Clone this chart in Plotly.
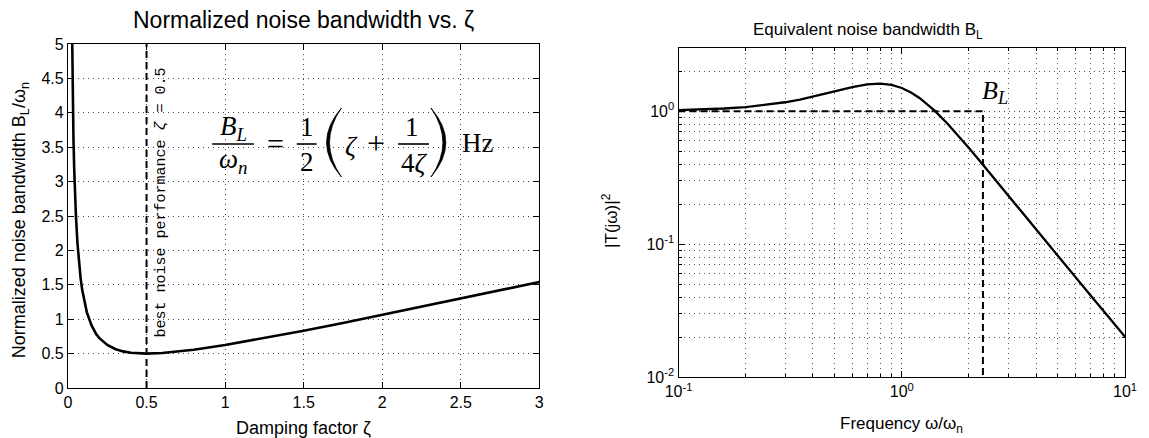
import plotly.graph_objects as go

# ---------------- data ----------------
zeta = [0.02, 0.025, 0.03, 0.035, 0.04, 0.045, 0.05, 0.06, 0.07, 0.08, 0.09, 0.1,
        0.12, 0.15, 0.18, 0.2, 0.25, 0.3, 0.35, 0.4, 0.45, 0.5, 0.6, 0.7, 0.8, 1.0,
        1.25, 1.5, 1.75, 2.0, 2.25, 2.5, 2.75, 3.0]
bl_over_wn = [6.26, 5.01, 4.18, 3.59, 3.15, 2.80, 2.53, 2.11, 1.82, 1.60, 1.43, 1.30,
              1.10, 0.91, 0.78, 0.725, 0.625, 0.567, 0.532, 0.513, 0.503, 0.50, 0.508,
              0.529, 0.556, 0.625, 0.725, 0.833, 0.946, 1.063, 1.181, 1.30, 1.42, 1.54]
zeta_best = 0.5

omega = [0.1, 0.13, 0.16, 0.2, 0.25, 0.3, 0.35, 0.4, 0.5, 0.6, 0.7, 0.8, 0.9, 1.0,
         1.1, 1.2, 1.3, 1.4, 1.6, 1.8, 2.0, 2.3, 2.6, 3.0, 3.5, 4.0, 5.0, 6.0, 7.0,
         8.0, 9.0, 10.0]
t_mag2 = [1.020, 1.034, 1.051, 1.078, 1.121, 1.171, 1.227, 1.287, 1.412, 1.523, 1.597,
          1.617, 1.582, 1.500, 1.388, 1.262, 1.136, 1.016, 0.810, 0.651, 0.529, 0.400,
          0.311, 0.232, 0.169, 0.128, 0.0815, 0.0563, 0.0412, 0.0315, 0.0248, 0.0201]
bl_omega = 2.31
bl_level = 1.0

left_xticks = [0, 0.5, 1, 1.5, 2, 2.5, 3]
left_xtext = ["0", "0.5", "1", "1.5", "2", "2.5", "3"]
left_yticks = [0, 0.5, 1, 1.5, 2, 2.5, 3, 3.5, 4, 4.5, 5]
left_ytext = ["0", "0.5", "1", "1.5", "2", "2.5", "3", "3.5", "4", "4.5", "5"]
right_xticks = [0.1, 1, 10]
right_xtext = ["10<sup>-1</sup>", "10<sup>0</sup>", "10<sup>1</sup>"]
right_yticks = [0.01, 0.1, 1]
right_ytext = ["10<sup>-2</sup>", "10<sup>-1</sup>", "10<sup>0</sup>"]

# ---------------- geometry helpers ----------------
W, H = 1149, 438
ML, MR, MT, MB = 68, 18, 44, 50
PW, PH = W - ML - MR, H - MT - MB


def px(x):
    return (x - ML) / PW


def py(y):
    return (H - MB - y) / PH


SANS = "Liberation Sans, Arial, sans-serif"
SERIF = "Liberation Serif, DejaVu Serif, serif"
MONO = "Liberation Mono, DejaVu Sans Mono, monospace"

fig = go.Figure()

# left panel
fig.add_trace(go.Scatter(x=zeta, y=bl_over_wn, mode="lines",
                         line=dict(color="black", width=2.6),
                         xaxis="x", yaxis="y", showlegend=False))
fig.add_trace(go.Scatter(x=[zeta_best, zeta_best], y=[left_yticks[0], left_yticks[-1]],
                         mode="lines",
                         line=dict(color="black", width=2, dash="7px,4px"),
                         xaxis="x", yaxis="y", showlegend=False))

# right panel
fig.add_trace(go.Scatter(x=omega, y=t_mag2, mode="lines",
                         line=dict(color="black", width=2.3),
                         xaxis="x2", yaxis="y2", showlegend=False))
fig.add_trace(go.Scatter(x=[omega[0], bl_omega, bl_omega],
                         y=[bl_level, bl_level, right_yticks[0]], mode="lines",
                         line=dict(color="black", width=2, dash="7px,4px"),
                         xaxis="x2", yaxis="y2", showlegend=False))

grid = dict(showgrid=True, gridcolor="#444444", griddash="1px,4px", gridwidth=1)
common = dict(showline=True, linecolor="black", linewidth=1.2, mirror="ticks",
              ticks="inside", ticklen=6, tickcolor="black", zeroline=False,
              tickfont=dict(family=SANS, size=16, color="black"), **grid)

minor_x = [k * 0.1 for k in range(2, 10)] + [k * 1.0 for k in range(2, 10)]
minor_y = [k * 0.01 for k in range(2, 10)] + [k * 0.1 for k in range(2, 10)] + [2.0]
minor_style = dict(ticks="inside", ticklen=3, tickcolor="black", showgrid=True,
                   gridcolor="#555555", griddash="1px,4px", gridwidth=1)

fig.update_layout(
    width=W, height=H,
    margin=dict(l=ML, r=MR, t=MT, b=MB),
    paper_bgcolor="white", plot_bgcolor="white",
    xaxis=dict(domain=[0, px(542)], range=[0, 3], tickmode="array",
               tickvals=left_xticks, ticktext=left_xtext, anchor="y", **common),
    yaxis=dict(domain=[0, 1], range=[0, 5], tickmode="array",
               tickvals=left_yticks, ticktext=left_ytext, anchor="x", **common),
    xaxis2=dict(domain=[px(682), 1], type="log", range=[-1, 1], tickmode="array",
                tickvals=right_xticks, ticktext=right_xtext, anchor="y2",
                minor=dict(tickvals=minor_x, **minor_style), **common),
    yaxis2=dict(domain=[py(377), py(48)], type="log", range=[-2, 0.4771],
                tickmode="array", tickvals=right_yticks, ticktext=right_ytext,
                anchor="x2", minor=dict(tickvals=minor_y, **minor_style), **common),
)

ann = []


def text(x, y, s, size, family=SANS, angle=0, xanchor="center"):
    ann.append(dict(xref="paper", yref="paper", x=px(x), y=py(y), text=s,
                    showarrow=False, textangle=angle, xanchor=xanchor,
                    yanchor="middle",
                    font=dict(family=family, size=size, color="black")))


# titles and axis labels
text(305, 20, "Normalized noise bandwidth vs. ζ", 23)
text(873, 31, "Equivalent noise bandwidth B<sub>L</sub>", 17)
text(305, 428, "Damping factor ζ", 18)
text(906, 425, "Frequency ω/ω<sub>n</sub>", 17)
text(20, 220, "Normalized noise bandwidth B<sub>L</sub>/ω<sub>n</sub>", 18, angle=-90)
text(613, 220, "|T(jω)|<sup>2</sup>", 17, angle=-90)

# rotated note at the optimum
text(162, 202, "best noise performance <i>ζ</i> = 0.5", 15, family=MONO, angle=-90)

# B_L label on the right panel
text(1000, 92, "<i>B</i><sub><i>L</i></sub>", 26, family=SERIF)

# formula  B_L/ω_n = 1/2 (ζ + 1/(4ζ)) Hz
FS = 27
text(234, 128, "<i>B</i><sub><i>L</i></sub>", FS, family=SERIF)
text(234, 161, "<i>ω</i><sub><i>n</i></sub>", FS, family=SERIF)
text(277, 143, "=", 30, family=SERIF)
text(308, 127, "1", FS, family=SERIF)
text(308, 162, "2", FS, family=SERIF)
text(353, 146, "<i>ζ</i>", FS, family=SERIF)
text(378, 143, "+", 32, family=SERIF)
text(414, 127, "1", FS, family=SERIF)
text(416, 163, "4<i>ζ</i>", FS, family=SERIF)
text(480, 143, "Hz", FS, family=SERIF)

shapes = []


def hbar(x0, x1, y):
    shapes.append(dict(type="line", xref="paper", yref="paper",
                       x0=px(x0), x1=px(x1), y0=py(y), y1=py(y),
                       line=dict(color="black", width=1.6)))


hbar(213, 255, 144)
hbar(298, 318, 144)
hbar(400, 431, 144)


def paren(xe, xo, xi, ytop, ybot):
    ym = (ytop + ybot) / 2
    path = (f"M {px(xe)},{py(ytop)} Q {px(xo)},{py(ym)} {px(xe)},{py(ybot)} "
            f"Q {px(xi)},{py(ym)} {px(xe)},{py(ytop)} Z")
    shapes.append(dict(type="path", xref="paper", yref="paper", path=path,
                       fillcolor="black", line=dict(color="black", width=0.8)))


paren(343, 313, 319, 108, 177)
paren(433, 463, 457, 108, 177)

fig.update_layout(annotations=ann, shapes=shapes)

fig.write_html("out.html", config={"displayModeBar": False},
               post_script="document.body.style.margin='0';"
                           "document.body.style.overflow='hidden';")
